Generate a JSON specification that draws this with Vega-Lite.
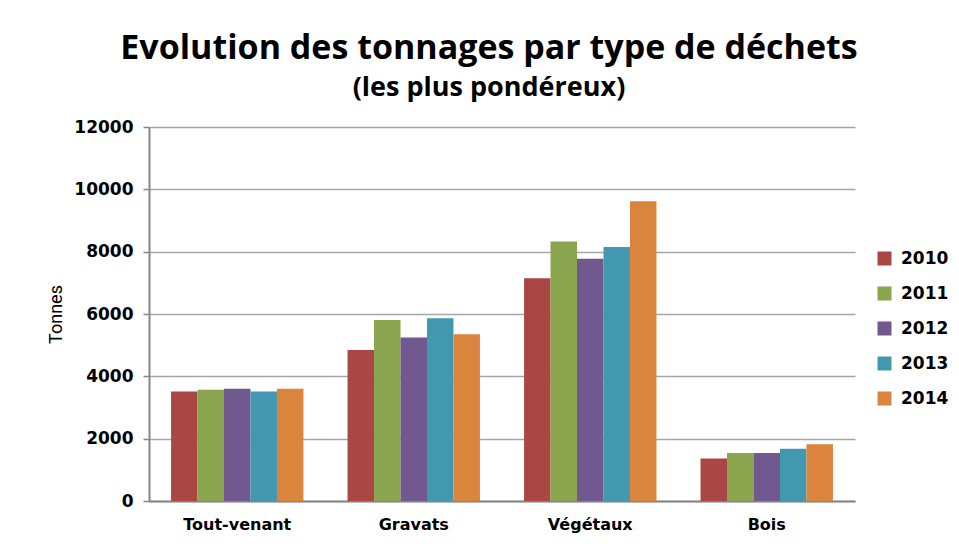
{
  "$schema": "https://vega.github.io/schema/vega-lite/v6.json",
  "width": 706,
  "height": 374,
  "autosize": {"type": "none"},
  "padding": {"left": 149, "top": 127, "right": 104, "bottom": 43},
  "background": "white",
  "title": {
    "text": "Evolution des tonnages par type de déchets",
    "subtitle": "(les plus pondéreux)",
    "anchor": "middle",
    "dx": -13,
    "font": "Open Sans",
    "fontSize": 34,
    "fontWeight": "bold",
    "color": "#000000",
    "subtitleFont": "Open Sans",
    "subtitleFontSize": 27,
    "subtitleFontWeight": "bold",
    "subtitleColor": "#000000",
    "subtitlePadding": 9,
    "offset": 17
  },
  "data": {
    "values": [
      {"type": "Tout-venant", "annee": "2010", "tonnes": 3515},
      {"type": "Tout-venant", "annee": "2011", "tonnes": 3570},
      {"type": "Tout-venant", "annee": "2012", "tonnes": 3605},
      {"type": "Tout-venant", "annee": "2013", "tonnes": 3510},
      {"type": "Tout-venant", "annee": "2014", "tonnes": 3605},
      {"type": "Gravats", "annee": "2010", "tonnes": 4845},
      {"type": "Gravats", "annee": "2011", "tonnes": 5805},
      {"type": "Gravats", "annee": "2012", "tonnes": 5250},
      {"type": "Gravats", "annee": "2013", "tonnes": 5860},
      {"type": "Gravats", "annee": "2014", "tonnes": 5350},
      {"type": "Végétaux", "annee": "2010", "tonnes": 7145},
      {"type": "Végétaux", "annee": "2011", "tonnes": 8330},
      {"type": "Végétaux", "annee": "2012", "tonnes": 7775},
      {"type": "Végétaux", "annee": "2013", "tonnes": 8150},
      {"type": "Végétaux", "annee": "2014", "tonnes": 9615},
      {"type": "Bois", "annee": "2010", "tonnes": 1360},
      {"type": "Bois", "annee": "2011", "tonnes": 1540},
      {"type": "Bois", "annee": "2012", "tonnes": 1540},
      {"type": "Bois", "annee": "2013", "tonnes": 1680},
      {"type": "Bois", "annee": "2014", "tonnes": 1820}
    ]
  },
  "mark": {"type": "bar"},
  "encoding": {
    "x": {
      "field": "type",
      "type": "nominal",
      "sort": ["Tout-venant", "Gravats", "Végétaux", "Bois"],
      "scale": {"paddingInner": 0.25, "paddingOuter": 0.125},
      "axis": {
        "title": null,
        "labelAngle": 0,
        "labelFont": "DejaVu Sans",
        "labelFontWeight": "bold",
        "labelFontSize": 16,
        "labelColor": "#000000",
        "domainColor": "#868686",
        "domainWidth": 2,
        "ticks": false,
        "labelPadding": 15
      }
    },
    "xOffset": {"field": "annee", "type": "nominal"},
    "y": {
      "field": "tonnes",
      "type": "quantitative",
      "scale": {"domain": [0, 12000], "nice": false},
      "axis": {
        "title": "Tonnes",
        "values": [0, 2000, 4000, 6000, 8000, 10000, 12000],
        "format": "d",
        "grid": true,
        "gridColor": "#A6A6A6",
        "gridWidth": 1.5,
        "domainColor": "#868686",
        "domainWidth": 2,
        "tickColor": "#868686",
        "tickSize": 6,
        "tickWidth": 1.5,
        "labelFont": "DejaVu Sans",
        "labelFontWeight": "bold",
        "labelFontSize": 17,
        "labelColor": "#000000",
        "labelPadding": 10,
        "titleFont": "Liberation Sans Narrow, Roboto",
        "titleFontWeight": "normal",
        "titleFontSize": 18,
        "titleColor": "#000000",
        "titlePadding": 8
      }
    },
    "color": {
      "field": "annee",
      "type": "nominal",
      "scale": {"range": ["#AA4643", "#89A54E", "#71588F", "#4198AF", "#DB843D"]},
      "legend": {
        "title": null,
        "orient": "none",
        "legendX": 727,
        "legendY": 123,
        "symbolType": "square",
        "symbolSize": 196,
        "symbolStrokeWidth": 0,
        "labelFont": "DejaVu Sans",
        "labelFontWeight": "bold",
        "labelFontSize": 17,
        "labelColor": "#000000",
        "labelOffset": 8,
        "rowPadding": 17
      }
    }
  },
  "config": {"view": {"stroke": null}}
}
